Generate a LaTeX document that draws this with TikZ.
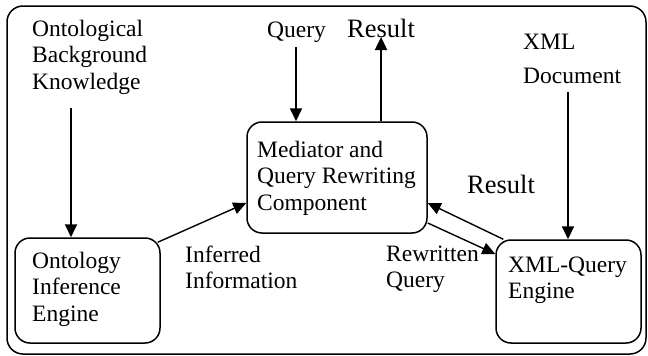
\documentclass[tikz,border=0pt]{standalone}
\usepackage{fontspec}
\setmainfont{Liberation Serif}
\usetikzlibrary{arrows.meta,calc}
\begin{document}
\begin{tikzpicture}[x=1pt,y=-1pt,
  lbl/.style={inner sep=0pt,align=left,font=\fontsize{23.5}{26.5}\selectfont},
  big/.style={inner sep=0pt,font=\fontsize{26.5}{30}\selectfont},
  box/.style={draw,rounded corners=15pt,line width=1.5pt,inner sep=0pt},
  arr/.style={line width=1.9pt,-{Triangle[length=13pt,width=12pt]}},
  darr/.style={line width=1.4pt,-{Triangle[length=13pt,width=12pt]}}]
\useasboundingbox (0,0) rectangle (648,356);
\node[draw,rounded corners=16pt,line width=1.5pt,minimum width=639pt,minimum height=348pt,inner sep=0pt] (frame) at (326.5,180) {};
% boxes
\node[box,minimum width=145pt,minimum height=105pt] (inf) at (87.5,290.5) {};
\node[box,minimum width=180pt,minimum height=111pt] (med) at (337,177.5) {};
\node[box,minimum width=145pt,minimum height=103pt] (xml) at (568.5,291.5) {};
% texts (anchored at the baseline of their last line)
\node[lbl,anchor=base west] (onto) at (32,89) {Ontological\\Background\\Knowledge};
\node[lbl,anchor=base west] (query) at (267,37) {Query};
\node[big,anchor=base west] (restop) at (347,37) {Result};
\node[lbl,font=\fontsize{23.5}{34}\selectfont,anchor=base west] (xmldoc) at (523,83) {XML\\Document};
\node[lbl,anchor=base west] (medtxt) at (257,210) {Mediator and\\Query Rewriting\\Component};
\node[lbl,anchor=base west] (inftxt) at (32,321) {Ontology\\Inference\\Engine};
\node[lbl,font=\fontsize{23.5}{25.5}\selectfont,anchor=base west] (inferred) at (185,288) {Inferred\\Information};
\node[big,anchor=base west] (resright) at (467,193) {Result};
\node[lbl,font=\fontsize{23.5}{26}\selectfont,anchor=base west] (rewritten) at (386,287) {Rewritten\\Query};
\node[lbl,font=\fontsize{23.5}{25.5}\selectfont,anchor=base west] (xmltxt) at (508,298) {XML-Query\\Engine};
% connectors
\coordinate (ontoEnd) at (71,108);
\draw[arr] (ontoEnd) -- (ontoEnd |- inf.north);
\coordinate (queryEnd) at (296,47);
\draw[arr] (queryEnd) -- (queryEnd |- med.north);
\draw[arr] (med.north -| restop.base) -- (restop.base);
\coordinate (docEnd) at (568,92);
\draw[arr] (docEnd) -- (docEnd |- xml.north);
\draw[darr] ($(inf.north east)+(-3,5)$) -- (med.west |- 0,203);
\draw[darr] (med.east |- 0,223) -- (xml.west |- 0,254);
\draw[darr] ($(xml.north west)+(8,0)$) -- (med.east |- 0,203);
\end{tikzpicture}
\end{document}
